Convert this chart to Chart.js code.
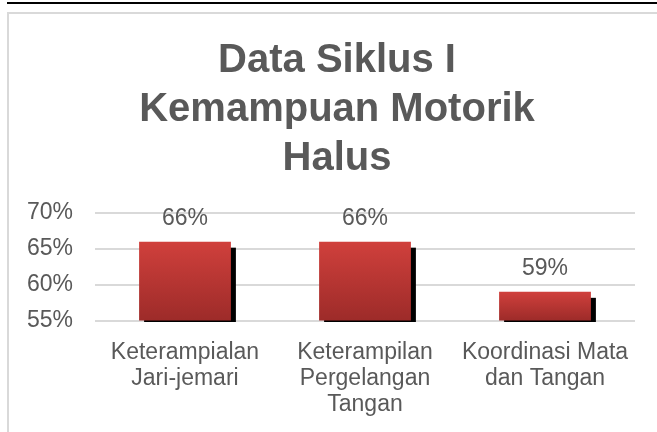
<!DOCTYPE html>
<html>
<head>
<meta charset="utf-8">
<script src="https://cdn.jsdelivr.net/npm/chart.js@4.4.1/dist/chart.umd.min.js"></script>
<style>
  html, body { margin: 0; padding: 0; background: #fff; overflow: hidden; width: 657px; height: 432px; }
  .topline { position: absolute; left: 7px; top: 2px; width: 660px; height: 2px; background: #000; }
  .frame { position: absolute; left: 7px; top: 12px; width: 660px; height: 440px; border: 2px solid #d9d9d9; border-right: none; border-bottom: none; }
  .frame canvas { position: absolute; left: 0; top: 0; }
</style>
</head>
<body>
<div class="topline"></div>
<div class="frame">
  <canvas id="chart" width="656" height="418"></canvas>
</div>
<script>
// chart data
const titleLines = ['Data Siklus I', 'Kemampuan Motorik', 'Halus'];
const categories = [
  ['Keterampialan', 'Jari-jemari'],
  ['Keterampilan', 'Pergelangan', 'Tangan'],
  ['Koordinasi Mata', 'dan Tangan']
];
const values = [0.66, 0.66, 0.59];
const yTicks = [0.55, 0.60, 0.65, 0.70];
const yTickLabels = ['55%', '60%', '65%', '70%'];

const textColor = '#595959';
const fontFamily = '"Liberation Sans", Arial, sans-serif';

const pct = (v) => Math.round(v * 100) + '%';

// black drop shadow behind each bar
const shadowPlugin = {
  id: 'barShadow',
  beforeDatasetsDraw(chart) {
    const ctx = chart.ctx;
    const meta = chart.getDatasetMeta(0);
    const floor = chart.chartArea.bottom;
    ctx.save();
    meta.data.forEach((bar) => {
      const left = bar.x - bar.width / 2 + 5;
      const top = bar.y + 6;
      const bottom = Math.min(bar.base, floor) + 1.5;
      ctx.fillStyle = '#000';
      ctx.fillRect(left, top, bar.width, bottom - top);
    });
    ctx.restore();
  }
};

// value labels above bars
const labelPlugin = {
  id: 'barLabels',
  afterDatasetsDraw(chart) {
    const ctx = chart.ctx;
    const meta = chart.getDatasetMeta(0);
    ctx.save();
    ctx.font = '23px ' + fontFamily;
    ctx.fillStyle = textColor;
    ctx.textAlign = 'center';
    ctx.textBaseline = 'alphabetic';
    meta.data.forEach((bar, i) => {
      ctx.fillText(pct(values[i]), bar.x, bar.y - 17);
    });
    ctx.restore();
  }
};

const barFill = (context) => {
  const chart = context.chart;
  const yScale = chart.scales.y;
  if (!yScale || context.raw === undefined) return '#c0393a';
  const top = yScale.getPixelForValue(context.raw);
  const base = yScale.getPixelForValue(yScale.min);
  if (!isFinite(top) || !isFinite(base) || base === top) return '#c0393a';
  const g = chart.ctx.createLinearGradient(0, top, 0, base);
  g.addColorStop(0, '#d0403c');
  g.addColorStop(1, '#9d2b29');
  return g;
};

new Chart(document.getElementById('chart'), {
  type: 'bar',
  data: {
    labels: categories,
    datasets: [{
      data: values,
      backgroundColor: barFill,
      borderWidth: 0,
      categoryPercentage: 1,
      barPercentage: 0.51
    }]
  },
  options: {
    responsive: false,
    animation: false,
    events: [],
    layout: { padding: { left: 18, right: 18, top: 0, bottom: 0 } },
    plugins: {
      legend: { display: false },
      tooltip: { enabled: false },
      title: {
        display: true,
        text: titleLines,
        color: textColor,
        font: { family: fontFamily, size: 40, weight: 'bold', lineHeight: 1.22 },
        padding: { top: 23, bottom: 29.6 }
      }
    },
    scales: {
      x: {
        grid: { display: false, drawTicks: false },
        border: { display: false },
        afterFit: (scale) => {
          scale.height = 111.5;
          scale.paddingLeft = 0;
          scale.paddingRight = 0;
        },
        ticks: {
          color: textColor,
          padding: 19,
          maxRotation: 0,
          autoSkip: false,
          font: { family: fontFamily, size: 23, lineHeight: 1.13 }
        }
      },
      y: {
        min: 0.55,
        max: 0.70,
        afterBuildTicks: (scale) => {
          scale.ticks = yTicks.map((v) => ({ value: v }));
        },
        afterFit: (scale) => {
          scale.width = 68;
          scale.paddingTop = 0;
          scale.paddingBottom = 0;
        },
        grid: { color: '#d9d9d9', lineWidth: 2, drawTicks: false },
        border: { display: false },
        ticks: {
          color: textColor,
          padding: 22,
          autoSkip: false,
          font: { family: fontFamily, size: 23 },
          callback: (v, i) => yTickLabels[i]
        }
      },
      // empty spacer on the right so the plot ends where the reference does
      spacer: {
        type: 'linear',
        position: 'right',
        grid: { display: false, drawTicks: false },
        border: { display: false },
        ticks: { display: false },
        afterFit: (scale) => {
          scale.width = 12;
        }
      }
    }
  },
  plugins: [shadowPlugin, labelPlugin]
});
</script>
</body>
</html>
